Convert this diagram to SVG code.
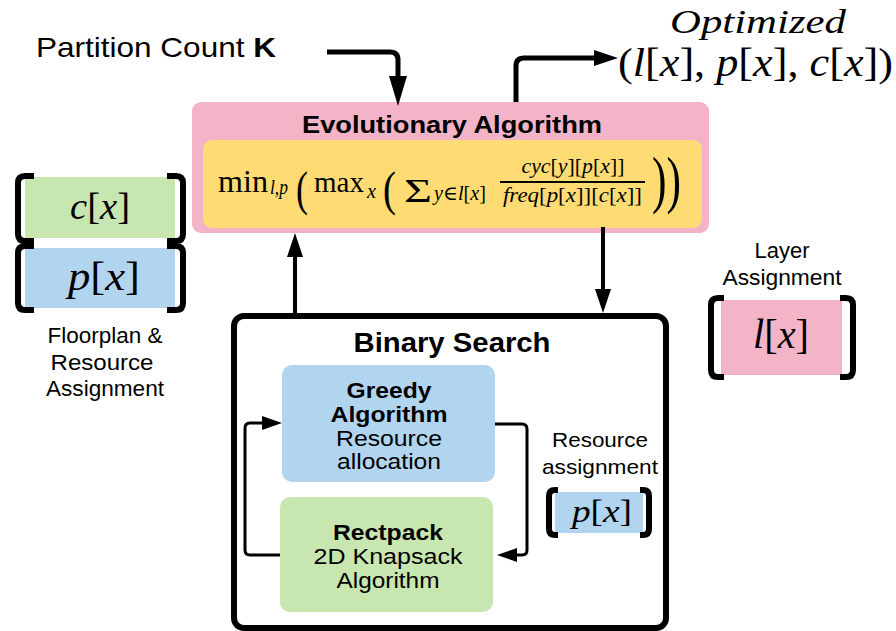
<svg xmlns="http://www.w3.org/2000/svg" width="896" height="631" viewBox="0 0 896 631">
<style>
  .sans { font-family: "Liberation Sans", Arial, sans-serif; fill: #000; }
  .b { font-weight: bold; }
  .mid { text-anchor: middle; }
  .math { font-family: "Liberation Serif", "DejaVu Serif", serif; fill: #000; }
  .it { font-style: italic; }
  .pink { fill: #f4b4c8; }
  .yellow { fill: #ffdc73; }
  .blue { fill: #b2d5ef; }
  .green { fill: #c8e6b0; }
  .brk { fill: none; stroke: #000; stroke-width: 6; stroke-linecap: butt; }
  .conn { fill: none; stroke: #000; stroke-linejoin: round; }
</style>
<defs>
  <marker id="ahBig" markerUnits="userSpaceOnUse" viewBox="0 0 30 18" refX="0" refY="9" markerWidth="30" markerHeight="18" orient="auto">
    <path d="M0,0 L30,9 L0,18 z" fill="#000"/>
  </marker>
  <marker id="ahMed" markerUnits="userSpaceOnUse" viewBox="0 0 24 16" refX="0" refY="8" markerWidth="24" markerHeight="16" orient="auto">
    <path d="M0,0 L24,8 L0,16 z" fill="#000"/>
  </marker>
  <marker id="ahSmall" markerUnits="userSpaceOnUse" viewBox="0 0 20 14" refX="0" refY="7" markerWidth="20" markerHeight="14" orient="auto">
    <path d="M0,0 L20,7 L0,14 z" fill="#000"/>
  </marker>
</defs>
<rect width="896" height="631" fill="#fff"/>

<g id="partition-count">
  <text class="sans" x="36" y="57" font-size="28" textLength="240" lengthAdjust="spacingAndGlyphs">Partition Count <tspan class="b">K</tspan></text>
</g>

<g id="optimized-output">
  <text class="math it" x="670" y="33" font-size="33" textLength="176" lengthAdjust="spacingAndGlyphs">Optimized</text>
  <text class="math" x="618" y="76" font-size="40" textLength="275" lengthAdjust="spacingAndGlyphs">(<tspan class="it">l</tspan>[<tspan class="it">x</tspan>], <tspan class="it">p</tspan>[<tspan class="it">x</tspan>], <tspan class="it">c</tspan>[<tspan class="it">x</tspan>])</text>
</g>

<g id="evolutionary-algorithm">
  <rect class="pink" x="192" y="102" width="517" height="131" rx="9"/>
  <text class="sans b mid" x="452" y="133" font-size="24" textLength="300" lengthAdjust="spacingAndGlyphs">Evolutionary Algorithm</text>
  <rect class="yellow" x="203" y="140" width="499" height="88" rx="9"/>
  <text class="math" x="218" y="192" font-size="31" textLength="50" lengthAdjust="spacingAndGlyphs">min</text>
  <text class="math it" x="270" y="194" font-size="20" textLength="18" lengthAdjust="spacingAndGlyphs">l,p</text>
  <text class="math" x="296" y="205" font-size="48" textLength="12" lengthAdjust="spacingAndGlyphs">(</text>
  <text class="math" x="314" y="192" font-size="29">max</text>
  <text class="math it" x="367" y="198" font-size="20" textLength="9" lengthAdjust="spacingAndGlyphs">x</text>
  <text class="math" x="383" y="205" font-size="48" textLength="13" lengthAdjust="spacingAndGlyphs">(</text>
  <text class="math" x="404" y="202" font-size="34" textLength="28" lengthAdjust="spacingAndGlyphs">Σ</text>
  <text class="math" x="434" y="200" font-size="20" textLength="52" lengthAdjust="spacingAndGlyphs"><tspan class="it">y</tspan>∈<tspan class="it">l</tspan>[<tspan class="it">x</tspan>]</text>
  <text class="math mid" x="573" y="173" font-size="20" textLength="103" lengthAdjust="spacingAndGlyphs"><tspan class="it">cyc</tspan>[<tspan class="it">y</tspan>][<tspan class="it">p</tspan>[<tspan class="it">x</tspan>]]</text>
  <line x1="500" y1="182" x2="645" y2="182" stroke="#000" stroke-width="2"/>
  <text class="math mid" x="572.5" y="202" font-size="20" textLength="139" lengthAdjust="spacingAndGlyphs"><tspan class="it">freq</tspan>[<tspan class="it">p</tspan>[<tspan class="it">x</tspan>]][<tspan class="it">c</tspan>[<tspan class="it">x</tspan>]]</text>
  <text class="math" x="652" y="201" font-size="64" textLength="29" lengthAdjust="spacingAndGlyphs">))</text>
</g>

<g id="floorplan-c">
  <rect class="green" x="25" y="177" width="150" height="61"/>
  <path class="brk" d="M34,176 H25 Q18,176 18,183 V234 Q18,241 25,241 H34"/>
  <path class="brk" d="M167,176 H176 Q183,176 183,183 V234 Q183,241 176,241 H167"/>
  <text class="math mid" x="100" y="219" font-size="38" textLength="60" lengthAdjust="spacingAndGlyphs"><tspan class="it">c</tspan>[<tspan class="it">x</tspan>]</text>
</g>

<g id="floorplan-p">
  <rect class="blue" x="25" y="248" width="150" height="60"/>
  <path class="brk" d="M34,246 H25 Q18,246 18,253 V303 Q18,310 25,310 H34"/>
  <path class="brk" d="M167,246 H176 Q183,246 183,253 V303 Q183,310 176,310 H167"/>
  <text class="math mid" x="104" y="290" font-size="40" textLength="72" lengthAdjust="spacingAndGlyphs"><tspan class="it">p</tspan>[<tspan class="it">x</tspan>]</text>
</g>

<g id="floorplan-label">
  <text class="sans mid" x="105" y="343" font-size="22" textLength="115" lengthAdjust="spacingAndGlyphs">Floorplan &amp;</text>
  <text class="sans mid" x="102" y="370" font-size="22" textLength="103" lengthAdjust="spacingAndGlyphs">Resource</text>
  <text class="sans mid" x="105" y="396" font-size="22" textLength="118" lengthAdjust="spacingAndGlyphs">Assignment</text>
</g>

<g id="layer-assignment">
  <text class="sans mid" x="782" y="258" font-size="22" textLength="55" lengthAdjust="spacingAndGlyphs">Layer</text>
  <text class="sans mid" x="782" y="285" font-size="22" textLength="119" lengthAdjust="spacingAndGlyphs">Assignment</text>
  <rect class="pink" x="721" y="300" width="121" height="75"/>
  <path class="brk" d="M724,298 H718 Q711,298 711,305 V370 Q711,377 718,377 H724"/>
  <path class="brk" d="M840,298 H846 Q853,298 853,305 V370 Q853,377 846,377 H840"/>
  <text class="math mid" x="781" y="348" font-size="42" textLength="56" lengthAdjust="spacingAndGlyphs"><tspan class="it">l</tspan>[<tspan class="it">x</tspan>]</text>
</g>

<g id="binary-search">
  <rect x="234" y="316" width="432" height="312" rx="10" fill="#fff" stroke="#000" stroke-width="6"/>
  <text class="sans b mid" x="452" y="352" font-size="27" textLength="197" lengthAdjust="spacingAndGlyphs">Binary Search</text>
</g>

<g id="greedy-algorithm">
  <rect class="blue" x="282" y="365" width="213" height="117" rx="10"/>
  <text class="sans b mid" x="389" y="398" font-size="22" textLength="85" lengthAdjust="spacingAndGlyphs">Greedy</text>
  <text class="sans b mid" x="389" y="422" font-size="22" textLength="117" lengthAdjust="spacingAndGlyphs">Algorithm</text>
  <text class="sans mid" x="389" y="446" font-size="22" textLength="106" lengthAdjust="spacingAndGlyphs">Resource</text>
  <text class="sans mid" x="389" y="469" font-size="22" textLength="104" lengthAdjust="spacingAndGlyphs">allocation</text>
</g>

<g id="rectpack">
  <rect class="green" x="280" y="497" width="213" height="115" rx="10"/>
  <text class="sans b mid" x="388" y="540" font-size="22" textLength="110" lengthAdjust="spacingAndGlyphs">Rectpack</text>
  <text class="sans mid" x="388" y="564" font-size="22" textLength="149" lengthAdjust="spacingAndGlyphs">2D Knapsack</text>
  <text class="sans mid" x="388" y="588" font-size="22" textLength="103" lengthAdjust="spacingAndGlyphs">Algorithm</text>
</g>

<g id="resource-assignment">
  <text class="sans mid" x="600" y="447" font-size="21" textLength="96" lengthAdjust="spacingAndGlyphs">Resource</text>
  <text class="sans mid" x="600" y="474" font-size="21" textLength="116" lengthAdjust="spacingAndGlyphs">assignment</text>
  <rect class="blue" x="555" y="492" width="88" height="41"/>
  <path class="brk" d="M558,490 H555 Q549,490 549,496 V529 Q549,535 555,535 H558"/>
  <path class="brk" d="M640,490 H643 Q649,490 649,496 V529 Q649,535 643,535 H640"/>
  <text class="math mid" x="602" y="522" font-size="32" textLength="60" lengthAdjust="spacingAndGlyphs"><tspan class="it">p</tspan>[<tspan class="it">x</tspan>]</text>
</g>

<g id="connectors">
  <path class="conn" stroke-width="5" d="M327,52 H390 Q398,52 398,60 V76" marker-end="url(#ahBig)"/>
  <path class="conn" stroke-width="5" d="M516,102 V66 Q516,58 524,58 H594" marker-end="url(#ahMed)"/>
  <path class="conn" stroke-width="4" d="M295,313 V257" marker-end="url(#ahMed)"/>
  <path class="conn" stroke-width="4" d="M603,227 V289" marker-end="url(#ahMed)"/>
  <path class="conn" stroke-width="3" d="M280,555 H250 Q245,555 245,550 V428 Q245,423 250,423 H262" marker-end="url(#ahSmall)"/>
  <path class="conn" stroke-width="3" d="M495,424 H522 Q527,424 527,429 V550 Q527,555 522,555 H517" marker-end="url(#ahSmall)"/>
</g>
</svg>
